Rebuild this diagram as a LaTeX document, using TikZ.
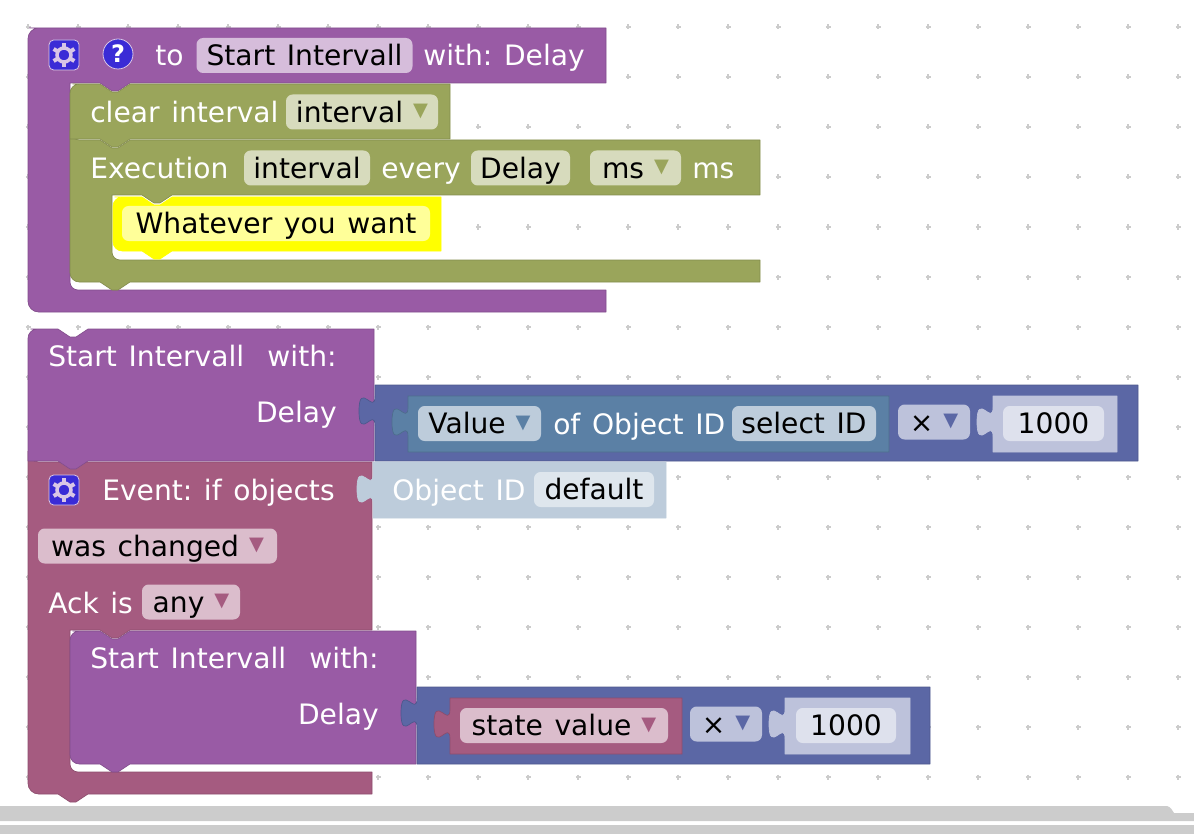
\documentclass[tikz,border=0pt]{standalone}
\usepackage{fontspec}
\setmainfont[WordSpace=1.3]{DejaVu Sans}
\usepackage{xcolor}
\definecolor{procpurple}{HTML}{995BA5}
\definecolor{timergreen}{HTML}{9AA55B}
\definecolor{eventred}{HTML}{A55B80}
\definecolor{mathblue}{HTML}{5B67A5}
\definecolor{valueblue}{HTML}{5B80A5}
\definecolor{commentyellow}{HTML}{FFFF00}
\definecolor{commentpale}{HTML}{FFFF99}
\definecolor{iconblue}{HTML}{3A2BD6}
\definecolor{iconedge}{HTML}{D9C6E6}
\definecolor{gridgrey}{HTML}{CCCCCC}
\definecolor{barlgrey}{HTML}{CCCCCC}
\newcommand{\notchtop}[2]{-- (#1,#2) -- ++(12,8) -- ++(6,0) -- ++(12,-8)}
\newcommand{\notchbot}[2]{-- (#1,#2) -- ++(-12,8) -- ++(-6,0) -- ++(-12,-8)}
\newcommand{\puzzle}[2]{-- (#1,#2+30) .. controls (#1,#2+10) and (#1-16,#2+46) .. (#1-16,#2+15) .. controls (#1-16,#2-16) and (#1,#2+20) .. (#1,#2)}
\newcommand{\innerbend}[2]{-- (#1,#2-20) [rounded corners=6pt] -- (#1,#2) -- (#1+15,#2) [sharp corners]}
\newcommand{\ddmark}[1]{\hspace{7.5pt}\textcolor{#1}{\raisebox{4pt}{\fontsize{14.5}{14.5}\selectfont ▼}}}
\newcommand{\gearglyph}[1]{
  \draw[iconedge, line width=2.6pt] (#1.center) circle[radius=7];
  \foreach \a in {30,90,...,330}
    \draw[iconedge, line width=3pt] (#1.center) ++(\a:7) -- ++(\a:5);
}
\begin{document}
\frenchspacing
\begin{tikzpicture}[
    x=.75pt, y=-.75pt,
    block/.style={line width=.5pt, line join=round},
    lbl/.style={anchor=base west, inner sep=0pt, text=white, font=\fontsize{21.1}{21}\selectfont},
    lblr/.style={lbl, anchor=base east},
    field/.style={rectangle, rounded corners=5pt, inner xsep=0pt, inner ysep=0pt, text height=20.8pt, text depth=5.45pt, text=black, font=\fontsize{21.1}{21}\selectfont},
    icon/.style={fill=iconblue, draw=iconedge, line width=.6pt, text=white, inner sep=0pt, minimum size=22.5pt}
]
\useasboundingbox (0,0) rectangle (1194,834);
\foreach \gx in {28,78,...,1178}
  \foreach \gy in {27,77,...,777}
    \draw[gridgrey, line width=.9pt] (\gx-2.5,\gy) -- (\gx+2.5,\gy) (\gx,\gy-2.5) -- (\gx,\gy+2.5);

\fill[barlgrey] (0,806) -- (1167,806) .. controls (1171,807) and (1172,810) .. (1174,813) -- (1194,813) -- (1194,821) -- (0,821) -- cycle;
\fill[barlgrey] (0,825) rectangle (1194,834);

\draw[block, fill=procpurple, draw=procpurple!85!black] (40,28) -- (606,28) -- (606,83) \notchbot{130}{83} -- (70,83) \innerbend{70}{290} -- (606,290) -- (606,312) -- (44,312) [rounded corners=8pt] -- (28,312) -- (28,28) -- cycle;
\draw[block, fill=timergreen, draw=timergreen!85!black] (70,140) \notchtop{100}{140} -- (760,140) -- (760,195) \notchbot{172}{195} -- (112,195) \innerbend{112}{260} -- (760,260) -- (760,282) \notchbot{130}{282} [rounded corners=7pt] -- (70,282) -- (70,140) -- cycle;
\draw[block, fill=timergreen, draw=timergreen!85!black] (82,84) \notchtop{100}{84} -- (450,84) -- (450,139) \notchbot{130}{139} -- (70,139) [rounded corners=7pt] -- (70,84) -- cycle;
\draw[block, fill=commentyellow, draw=commentyellow] (124,197) \notchtop{142}{197} -- (441,197) -- (441,251) \notchbot{172}{251} [rounded corners=7pt] -- (113,251) -- (113,197) -- cycle;

\draw[block, fill=eventred, draw=eventred!85!black] (28,462) -- (372,462) -- (372,630) \notchbot{130}{630} -- (70,630) \innerbend{70}{772} -- (372,772) -- (372,794) \notchbot{88}{794} [rounded corners=8pt] -- (28,794) -- (28,462) -- cycle;
\draw[block, fill=procpurple, draw=procpurple!85!black] (40,329) \notchtop{58}{329} -- (374,329) -- (374,461) \notchbot{88}{461} -- (28,461) [rounded corners=7pt] -- (28,329) -- cycle;
\draw[block, fill=procpurple, draw=procpurple!85!black] (82,631) \notchtop{100}{631} -- (416,631) -- (416,764) \notchbot{130}{764} [rounded corners=7pt] -- (70,764) -- (70,631) -- cycle;

\draw[block, fill=mathblue, draw=mathblue!85!black] (375,385) -- (1138,385) -- (1138,461) -- (375,461) \puzzle{375}{396} -- cycle;
\draw[block, fill=valueblue, draw=valueblue!85!black] (408,396) -- (889,396) -- (889,452) -- (408,452) \puzzle{408}{407} -- cycle;
\draw[block, fill=mathblue!40!white, draw=mathblue!40!white] (993,396) -- (1117,396) -- (1117,452) -- (993,452) \puzzle{993}{407} -- cycle;
\draw[block, fill=valueblue!40!white, draw=valueblue!40!white] (373,462) -- (666,462) -- (666,518) -- (373,518) \puzzle{373}{474} -- cycle;
\draw[block, fill=mathblue, draw=mathblue!85!black] (417,687) -- (930,687) -- (930,764) -- (417,764) \puzzle{417}{698} -- cycle;
\draw[block, fill=eventred, draw=eventred!85!black] (450,698) -- (682,698) -- (682,754) -- (450,754) \puzzle{450}{709} -- cycle;
\draw[block, fill=mathblue!40!white, draw=mathblue!40!white] (785,698) -- (910,698) -- (910,754) -- (785,754) \puzzle{785}{709} -- cycle;

\node[icon, rounded corners=3.5pt] (gearone) at (64,55) {};
\gearglyph{gearone}
\node[icon, circle, font=\fontsize{18}{18}\selectfont\bfseries] (helpone) at (118,54) {?};
\node[lbl] (toword) at (155,66) {to};
\node[field, fill=procpurple!40!white, minimum width=162pt] (procname) at (304.5,55.5) {Start Intervall};
\node[lbl] (withdelay) at (423,66) {with: Delay};

\node[lbl] (clearword) at (90,123) {clear interval};
\node[field, fill=timergreen!40!white, minimum width=114pt] (clearfield) at (362,112) {interval\ddmark{timergreen}};
\node[lbl] (execword) at (90,179) {Execution};
\node[field, fill=timergreen!40!white, minimum width=94.5pt] (execfield) at (307,168) {interval};
\node[lbl] (everyword) at (381,179) {every};
\node[field, fill=timergreen!40!white, minimum width=74.25pt] (delayfield) at (520.5,168) {Delay};
\node[field, fill=timergreen!40!white, minimum width=68.25pt] (unitfield) at (635.5,168) {ms\ddmark{timergreen}};
\node[lbl] (msword) at (692,179) {ms};
\node[field, fill=commentpale, minimum width=231pt] (whatever) at (276,223.5) {Whatever you want};

\node[lbl] (callone) at (48,366) {Start Intervall\ \ with:};
\node[lblr] (delayone) at (337,422) {Delay};
\node[field, fill=valueblue!40!white, minimum width=92.25pt] (valuefield) at (479.5,423.5) {Value\ddmark{valueblue}};
\node[lbl] (ofobject) at (553,434) {of Object ID};
\node[field, fill=valueblue!40!white, minimum width=108pt] (idfield) at (804,423.5) {select ID};
\node[field, fill=mathblue!40!white, minimum width=54pt] (timesone) at (934,422) {×\ddmark{mathblue}};
\node[field, fill=mathblue!20!white, minimum width=75.75pt] (numone) at (1053.5,423.5) {1000};

\node[icon, rounded corners=3.5pt] (geartwo) at (64,490) {};
\gearglyph{geartwo}
\node[lbl] (eventword) at (102,500) {Event: if objects};
\node[lbl] (objectword) at (392,500) {Object ID};
\node[field, fill=valueblue!20!white, minimum width=90pt] (defaultfield) at (594,489.5) {default};
\node[field, fill=eventred!40!white, minimum width=179.25pt] (changedfield) at (157.5,546) {was changed\ddmark{eventred}};
\node[lbl] (ackword) at (48,613) {Ack is};
\node[field, fill=eventred!40!white, minimum width=73.5pt] (anyfield) at (191,602) {any\ddmark{eventred}};

\node[lbl] (calltwo) at (90,668) {Start Intervall\ \ with:};
\node[lblr] (delaytwo) at (379,724) {Delay};
\node[field, fill=eventred!40!white, minimum width=156pt] (statefield) at (564,725.5) {state value\ddmark{eventred}};
\node[field, fill=mathblue!40!white, minimum width=54pt] (timestwo) at (726,724) {×\ddmark{mathblue}};
\node[field, fill=mathblue!20!white, minimum width=75pt] (numtwo) at (846,725.5) {1000};
\end{tikzpicture}
\end{document}
